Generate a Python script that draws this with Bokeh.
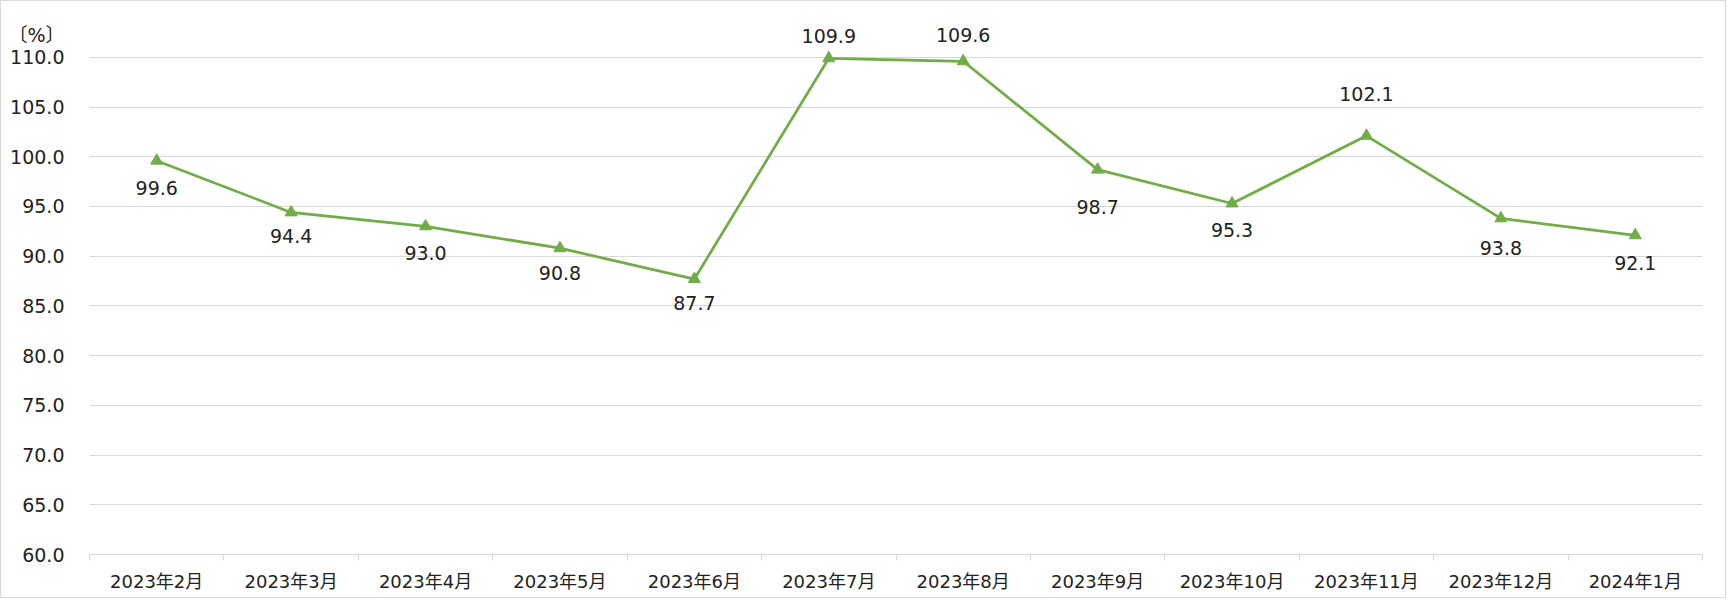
from bokeh.plotting import figure
from bokeh.models import Range1d, FixedTicker, ColumnDataSource, PrintfTickFormatter
from bokeh.core.properties import value
from bokeh.embed import file_html
from bokeh.resources import INLINE

# ---- data ----
months = ["2023年2月", "2023年3月", "2023年4月", "2023年5月", "2023年6月", "2023年7月",
          "2023年8月", "2023年9月", "2023年10月", "2023年11月", "2023年12月", "2024年1月"]
values = [99.6, 94.4, 93.0, 90.8, 87.7, 109.9, 109.6, 98.7, 95.3, 102.1, 93.8, 92.1]
y_ticks = [60, 65, 70, 75, 80, 85, 90, 95, 100, 105, 110]
unit_label = "〔%〕"

# ---- style ----
label_dy = [27, 24, 27, 25, 24, -22, -26, 37, 27, -42, 30, 28]  # screen px offsets of data labels
unit_pos = 112.2  # where the unit caption sits on the value axis
GREEN = "#70AD47"
GRID = "#d9d9d9"
TXT = "#222222"
FONT = "'DejaVu Sans', 'Noto Sans CJK JP'"

xs = [i + 0.5 for i in range(len(months))]
src = ColumnDataSource(dict(x=xs, y=values, lab=[f"{v:.1f}" for v in values], dy=label_dy))

p = figure(width=1726, height=598, output_backend="svg", toolbar_location=None,
           x_range=Range1d(0, len(months)), y_range=Range1d(60, 114),
           min_border_left=88, min_border_right=25, min_border_top=16, min_border_bottom=45)
p.styles = {"border": "1px solid #d9d9d9"}
p.outline_line_color = None
p.background_fill_color = "white"

p.line("x", "y", source=src, line_color=GREEN, line_width=2.75)
p.scatter("x", "y", source=src, marker="triangle", size=12, fill_color=GREEN, line_color=GREEN)
p.text("x", "y", text="lab", source=src, y_offset="dy", text_align="center", text_baseline="middle",
       text_font=value("DejaVu Sans"), text_font_size="19px", text_color=TXT)

# x axis
xa = p.xaxis[0]
xa.ticker = FixedTicker(ticks=xs, minor_ticks=list(range(len(months) + 1)))
xa.major_label_overrides = {x: m for x, m in zip(xs, months)}
xa.major_tick_line_color = None
xa.major_tick_out = 6
xa.minor_tick_in = 0
xa.minor_tick_out = 6
xa.minor_tick_line_color = GRID
xa.axis_line_color = GRID
xa.major_label_standoff = 10
xa.major_label_text_font = FONT
xa.major_label_text_font_size = "18px"
xa.major_label_text_color = TXT
p.xgrid.visible = False

# y axis (unit caption shown as an extra label above the top tick)
ya = p.yaxis[0]
ya.ticker = FixedTicker(ticks=y_ticks + [unit_pos])
ya.formatter = PrintfTickFormatter(format="%.1f")
ya.major_label_overrides = {unit_pos: unit_label}
ya.axis_line_color = None
ya.major_tick_line_color = None
ya.minor_tick_line_color = None
ya.major_tick_out = 0
ya.major_tick_in = 0
ya.major_label_standoff = 25
ya.major_label_text_font = FONT
ya.major_label_text_font_size = "19px"
ya.major_label_text_color = TXT
p.ygrid.ticker = FixedTicker(ticks=y_ticks)
p.ygrid.grid_line_color = GRID

open("out.html", "w").write(file_html(p, INLINE))
